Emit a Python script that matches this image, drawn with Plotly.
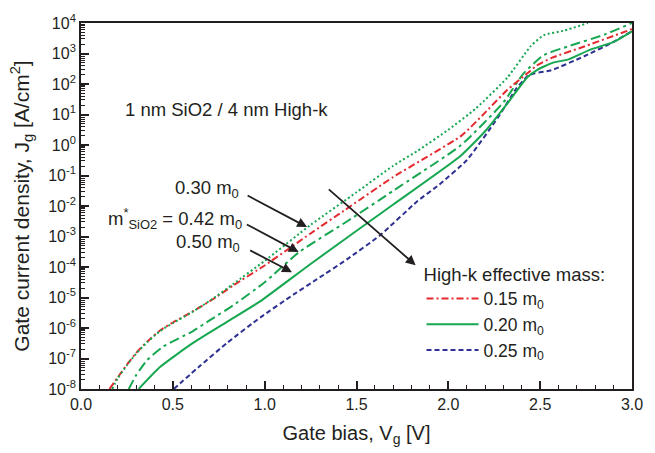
import plotly.graph_objects as go

# ---- data ----
red_v = [0.155, 0.20, 0.25, 0.30, 0.36, 0.43, 0.50, 0.61, 0.72, 0.83, 1.00, 1.25, 1.43, 1.70, 2.07, 2.19, 2.32, 2.43, 2.48, 2.56, 2.74, 3.00]
red_j = [-8.0, -7.62, -7.2, -6.82, -6.45, -6.08, -5.82, -5.45, -5.05, -4.6, -3.95, -2.9, -2.16, -1.05, 0.3, 1.0, 1.8, 2.35, 2.6, 2.85, 3.23, 3.8]

dot_v = [0.17, 0.20, 0.25, 0.30, 0.36, 0.43, 0.50, 0.61, 0.72, 0.83, 1.00, 1.25, 1.50, 1.70, 1.83, 2.00, 2.15, 2.32, 2.45, 2.52, 2.63, 2.76]
dot_j = [-8.0, -7.65, -7.22, -6.84, -6.47, -6.1, -5.84, -5.46, -5.03, -4.55, -3.8, -2.62, -1.55, -0.68, -0.2, 0.5, 1.2, 2.2, 3.25, 3.6, 3.75, 4.0]

dd_v = [0.26, 0.30, 0.36, 0.45, 0.61, 0.70, 0.83, 1.00, 1.19, 1.45, 1.70, 2.07, 2.30, 2.41, 2.52, 2.65, 2.85, 3.00]
dd_j = [-8.0, -7.55, -7.05, -6.6, -6.1, -5.75, -5.25, -4.5, -3.5, -2.5, -1.5, 0.0, 1.4, 2.35, 2.95, 3.23, 3.62, 4.0]

sol_v = [0.314, 0.43, 0.61, 0.795, 0.977, 1.25, 1.70, 2.066, 2.20, 2.32, 2.43, 2.48, 2.57, 2.65, 2.77, 2.90, 3.00]
sol_j = [-8.0, -7.28, -6.49, -5.80, -5.12, -3.9, -1.95, -0.36, 0.45, 1.35, 2.22, 2.45, 2.70, 2.80, 3.12, 3.38, 3.73]

blu_v = [0.505, 0.65, 0.795, 0.977, 1.158, 1.285, 1.45, 1.63, 1.83, 1.95, 2.10, 2.27, 2.37, 2.43, 2.47, 2.56, 2.74, 2.90, 3.00]
blu_j = [-8.0, -7.23, -6.49, -5.65, -4.9, -4.4, -3.74, -2.95, -1.85, -1.3, -0.5, 0.9, 1.85, 2.25, 2.35, 2.45, 2.91, 3.38, 3.73]

y_decades = list(range(-8, 5))
x_ticks = [0.0, 0.5, 1.0, 1.5, 2.0, 2.5, 3.0]

RED = "#e42a2f"
GREEN = "#16a750"
BLUE = "#2e3192"
INK = "#231f20"
FONT = "Liberation Sans, Arial, Helvetica, sans-serif"

def pw(vals):
    return [10 ** v for v in vals]

fig = go.Figure()
fig.add_trace(go.Scatter(x=blu_v, y=pw(blu_j), mode="lines", showlegend=False,
                         line=dict(color=BLUE, width=2, dash="5px,3px", shape="spline", smoothing=0.5)))
fig.add_trace(go.Scatter(x=sol_v, y=pw(sol_j), mode="lines", showlegend=False,
                         line=dict(color=GREEN, width=2, shape="spline", smoothing=0.5)))
fig.add_trace(go.Scatter(x=dd_v, y=pw(dd_j), mode="lines", showlegend=False,
                         line=dict(color=GREEN, width=2, dash="10px,4px,3px,4px", shape="spline", smoothing=0.5)))
fig.add_trace(go.Scatter(x=red_v, y=pw(red_j), mode="lines", showlegend=False,
                         line=dict(color=RED, width=2, dash="7px,3px,2px,3px", shape="spline", smoothing=0.5)))
fig.add_trace(go.Scatter(x=dot_v, y=pw(dot_j), mode="lines", showlegend=False,
                         line=dict(color=GREEN, width=2, dash="2px,2.5px", shape="spline", smoothing=0.5)))

# legend entries
fig.add_trace(go.Scatter(x=[None], y=[None], mode="lines", name="0.15 m<sub>0</sub>",
                         line=dict(color=RED, width=2, dash="7px,3px,2px,3px")))
fig.add_trace(go.Scatter(x=[None], y=[None], mode="lines", name="0.20 m<sub>0</sub>",
                         line=dict(color=GREEN, width=2)))
fig.add_trace(go.Scatter(x=[None], y=[None], mode="lines", name="0.25 m<sub>0</sub>",
                         line=dict(color=BLUE, width=2, dash="5px,3px")))

minor_y = [m * 10 ** e for e in range(-8, 4) for m in range(2, 10)]

fig.update_xaxes(range=[0, 3], tickvals=x_ticks, tickformat=".1f",
                 ticks="inside", ticklen=8, tickwidth=1.5, tickcolor=INK,
                 minor=dict(dtick=0.1, ticks="inside", ticklen=4, tickwidth=1.2, tickcolor=INK, showgrid=False),
                 showline=True, linecolor=INK, linewidth=1.8, mirror=True,
                 showgrid=False, zeroline=False,
                 tickfont=dict(size=16, color=INK, family=FONT),
                 title=dict(text="Gate bias, V<sub>g</sub> [V]", font=dict(size=20, color=INK, family=FONT), standoff=14))

fig.update_yaxes(type="log", range=[-8, 4],
                 tickvals=[10 ** e for e in y_decades],
                 ticktext=["10<sup>%d</sup>" % e for e in y_decades],
                 ticks="inside", ticklen=8, tickwidth=1.5, tickcolor=INK,
                 minor=dict(tickvals=minor_y, ticks="inside", ticklen=4, tickwidth=1.2, tickcolor=INK, showgrid=False),
                 showline=True, linecolor=INK, linewidth=1.8, mirror=True,
                 showgrid=False, zeroline=False,
                 tickfont=dict(size=16, color=INK, family=FONT),
                 title=dict(text="Gate current density, J<sub>g</sub> [A/cm<sup>2</sup>]", font=dict(size=21, color=INK, family=FONT), standoff=13))

ann_font = dict(size=18.5, color=INK, family=FONT)
fig.add_annotation(x=0.231, y=1.17, xref="x", yref="y", text="1 nm SiO2 / 4 nm High-k",
                   showarrow=False, xanchor="left", yanchor="middle", font=ann_font)
fig.add_annotation(x=0.87, y=-1.45, xref="x", yref="y", text="0.30 m<sub>0</sub>",
                   showarrow=False, xanchor="right", yanchor="middle", font=ann_font)
fig.add_annotation(x=0.885, y=-2.4, xref="x", yref="y", text="m<sup>*</sup><sub>SiO2</sub> = 0.42 m<sub>0</sub>",
                   showarrow=False, xanchor="right", yanchor="middle", font=ann_font)
fig.add_annotation(x=0.875, y=-3.2, xref="x", yref="y", text="0.50 m<sub>0</sub>",
                   showarrow=False, xanchor="right", yanchor="middle", font=ann_font)

arrows = [
    (0.899, -1.63, 1.231, -2.69),
    (0.895, -2.58, 1.185, -3.51),
    (0.913, -3.43, 1.149, -4.17),
    (1.341, -1.41, 1.822, -3.94),
]
for ax0, ay0, x1, y1 in arrows:
    fig.add_annotation(x=x1, y=y1, ax=ax0, ay=ay0, xref="x", yref="y", axref="x", ayref="y",
                       text="", showarrow=True, arrowhead=2, arrowsize=1.1, arrowwidth=1.8,
                       arrowcolor=INK)

fig.update_layout(
    width=655, height=453,
    margin=dict(l=81, r=23, t=12, b=62),
    paper_bgcolor="white", plot_bgcolor="white",
    font=dict(family=FONT, color=INK),
    legend=dict(x=0.618, y=0.362, xanchor="left", yanchor="top",
                bgcolor="rgba(0,0,0,0)", borderwidth=0, itemwidth=52,
                font=dict(size=17.5, color=INK, family=FONT),
                title=dict(text="High-k effective mass:", font=dict(size=18.5, color=INK, family=FONT)),
                tracegroupgap=0),
)

fig.write_html("out.html")
